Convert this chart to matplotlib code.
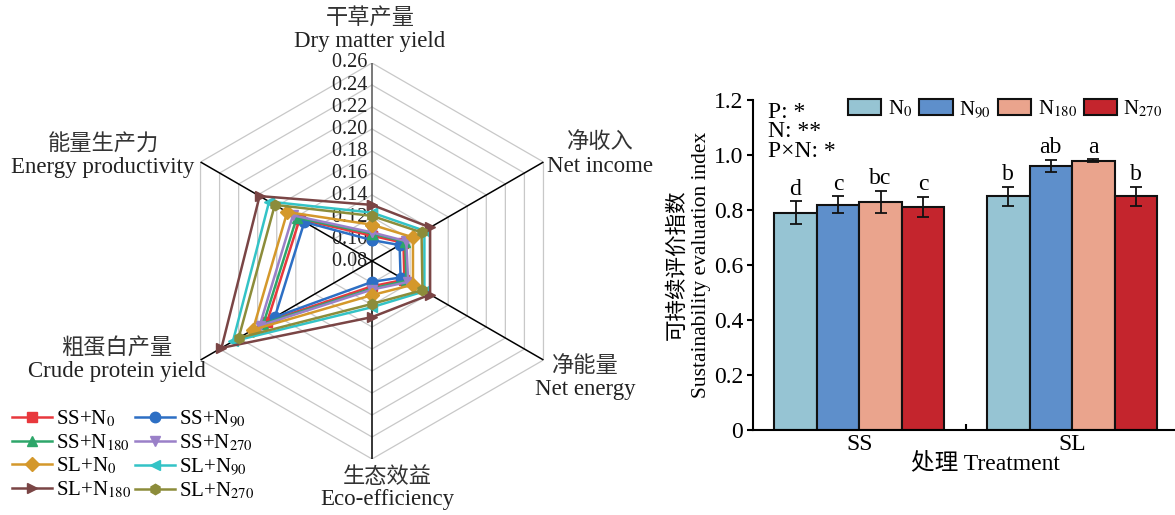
import numpy as np
import matplotlib.pyplot as plt

plt.rcParams['font.family'] = ['Liberation Serif', 'Noto Sans CJK SC']
plt.rcParams['mathtext.fontset'] = 'stix'

W, H = 1175, 515

# radar chart data (order of axes: clockwise from top)
axis_cn = ['干草产量', '净收入', '净能量', '生态效益', '粗蛋白产量', '能量生产力']
axis_en = ['Dry matter yield', 'Net income', 'Net energy', 'Eco-efficiency',
           'Crude protein yield', 'Energy productivity']

ss_n0 = [0.103, 0.113, 0.114, 0.103, 0.190, 0.156]
ss_n90 = [0.099, 0.109, 0.110, 0.099, 0.182, 0.151]
ss_n180 = [0.105, 0.115, 0.116, 0.105, 0.194, 0.159]
ss_n270 = [0.106, 0.116, 0.118, 0.106, 0.198, 0.163]
sl_n0 = [0.113, 0.123, 0.123, 0.111, 0.205, 0.169]
sl_n90 = [0.124, 0.135, 0.135, 0.122, 0.226, 0.188]
sl_n180 = [0.131, 0.141, 0.141, 0.131, 0.238, 0.198]
sl_n270 = [0.121, 0.132, 0.133, 0.119, 0.220, 0.182]

series = [ss_n0, ss_n90, ss_n180, ss_n270, sl_n0, sl_n90, sl_n180, sl_n270]
names = ['SS+N$_{0}$', 'SS+N$_{90}$', 'SS+N$_{180}$', 'SS+N$_{270}$',
         'SL+N$_{0}$', 'SL+N$_{90}$', 'SL+N$_{180}$', 'SL+N$_{270}$']
colors = ['#E8383D', '#2D6FC4', '#2EA66A', '#9A80C8',
          '#D4982B', '#33C3C6', '#7A4545', '#8C8C3A']
markers = ['s', 'o', '^', 'v', 'D', '<', '>', 'h']

# bar chart data
groups = ['SS', 'SL']
n_labels = ['N$_{0}$', 'N$_{90}$', 'N$_{180}$', 'N$_{270}$']
sei_ss = [0.79, 0.82, 0.83, 0.81]
sei_sl = [0.85, 0.96, 0.98, 0.85]
err_ss = [0.042, 0.030, 0.040, 0.037]
err_sl = [0.035, 0.022, 0.004, 0.035]
let_ss = ['d', 'c', 'bc', 'c']
let_sl = ['b', 'ab', 'a', 'b']
bar_colors = ['#96C4D3', '#5E8FCB', '#EAA48D', '#C4252D']

fig = plt.figure(figsize=(W / 100, H / 100), dpi=100)

# ---------- radar ----------
ax = fig.add_axes([174 / W, 56 / H, 396 / W, 396 / H], projection='polar')
ax.set_theta_zero_location('N')
ax.set_theta_direction(-1)
theta = np.deg2rad(np.arange(6) * 60)
tc = np.append(theta, theta[0])
ax.set_ylim(0.08, 0.26)
ax.grid(False)
ax.spines['polar'].set_visible(False)
ax.set_xticks([])
ax.set_yticks([])

for r in np.arange(0.10, 0.2601, 0.02):
    ax.plot(tc, [r] * 7, color='#c8c8c8', lw=0.9, zorder=1)
for i, t in enumerate(theta):
    ax.plot([t, t], [0.08, 0.26], color='#555555' if i == 0 else 'k', lw=1.1, zorder=2)
for r in np.arange(0.08, 0.2601, 0.02):
    ax.text(0, r, '%.2f ' % r, ha='right', va='center', fontsize=14.5,
            color='#222222', zorder=3)

lines = []
for vals, c, m, n in zip(series, colors, markers, names):
    ln, = ax.plot(tc, vals + vals[:1], color=c, marker=m, ms=7.5, lw=1.8,
                  label=n, zorder=4, clip_on=False)
    lines.append(ln)

lab_pos = [(370, 18, 41), (600, 143, 166), (585, 367, 390),
           (387, 478, 500), (117, 348, 371), (103, 145, 168)]
for (x, y1, y2), cn, en in zip(lab_pos, axis_cn, axis_en):
    fig.text(x / W, 1 - y1 / H, cn, ha='center', va='center', fontsize=16, color='#333333')
    fig.text(x / W, 1 - y2 / H, en, ha='center', va='center', fontsize=16.5, color='#222222')

order = [0, 2, 4, 6, 1, 3, 5, 7]
fig.legend([lines[i] for i in order], [names[i] for i in order],
           loc='upper left', bbox_to_anchor=(4 / W, 1 - 400 / H), ncol=2,
           frameon=False, fontsize=15, handlelength=1.9, columnspacing=0.2,
           handletextpad=0.2, labelspacing=0.15, borderaxespad=0)

# ---------- bars ----------
bx = fig.add_axes([753 / W, 85 / H, 422 / W, 330 / H])
x = np.arange(len(groups))
w = 0.2
for i in range(4):
    xs = x + (i - 1.5) * w
    vals = [sei_ss[i], sei_sl[i]]
    errs = [err_ss[i], err_sl[i]]
    bx.bar(xs, vals, w, yerr=errs, color=bar_colors[i], edgecolor='#111111',
           linewidth=1.5, capsize=4, label=n_labels[i],
           error_kw=dict(elinewidth=1.3, capthick=1.3, ecolor='#111111'))
    for xx, v, e, t in zip(xs, vals, errs, [let_ss[i], let_sl[i]]):
        bx.text(xx, v + e + 0.006, t, ha='center', va='bottom', fontsize=17)

bx.set_xlim(-0.5, 1.484)
bx.set_ylim(0, 1.2)
bx.spines['top'].set_visible(False)
bx.spines['right'].set_visible(False)
bx.spines['left'].set_linewidth(1.5)
bx.spines['bottom'].set_linewidth(1.5)
bx.set_xticks(x)
bx.set_xticklabels(groups, fontsize=17)
bx.tick_params(axis='x', length=0, pad=3)
bx.set_xticks([0.5], minor=True)
bx.tick_params(axis='x', which='minor', direction='in', length=4, width=1.5)
bx.set_yticks(np.arange(0, 1.201, 0.2))
bx.set_yticklabels(['0', '0.2', '0.4', '0.6', '0.8', '1.0', '1.2'], fontsize=17)
bx.tick_params(axis='y', direction='out', length=4, width=1.5, pad=3)
bx.set_ylabel('可持续评价指数\nSustainability evaluation index', fontsize=15.5,
              labelpad=2, linespacing=1.35)
bx.set_xlabel('处理 Treatment', fontsize=17, labelpad=-2, x=(985 - 753) / 422)
bx.text(0.035, 0.995, 'P: *\nN: **\nP×N: *', transform=bx.transAxes,
        ha='left', va='top', fontsize=17, linespacing=0.92)
bx.legend(loc='upper right', bbox_to_anchor=(0.99, 1.03), ncol=4, frameon=False,
          fontsize=15, handlelength=1.6, handleheight=0.8, columnspacing=0.35,
          handletextpad=0.3, borderaxespad=0)

fig.savefig('out.png', dpi=100)
